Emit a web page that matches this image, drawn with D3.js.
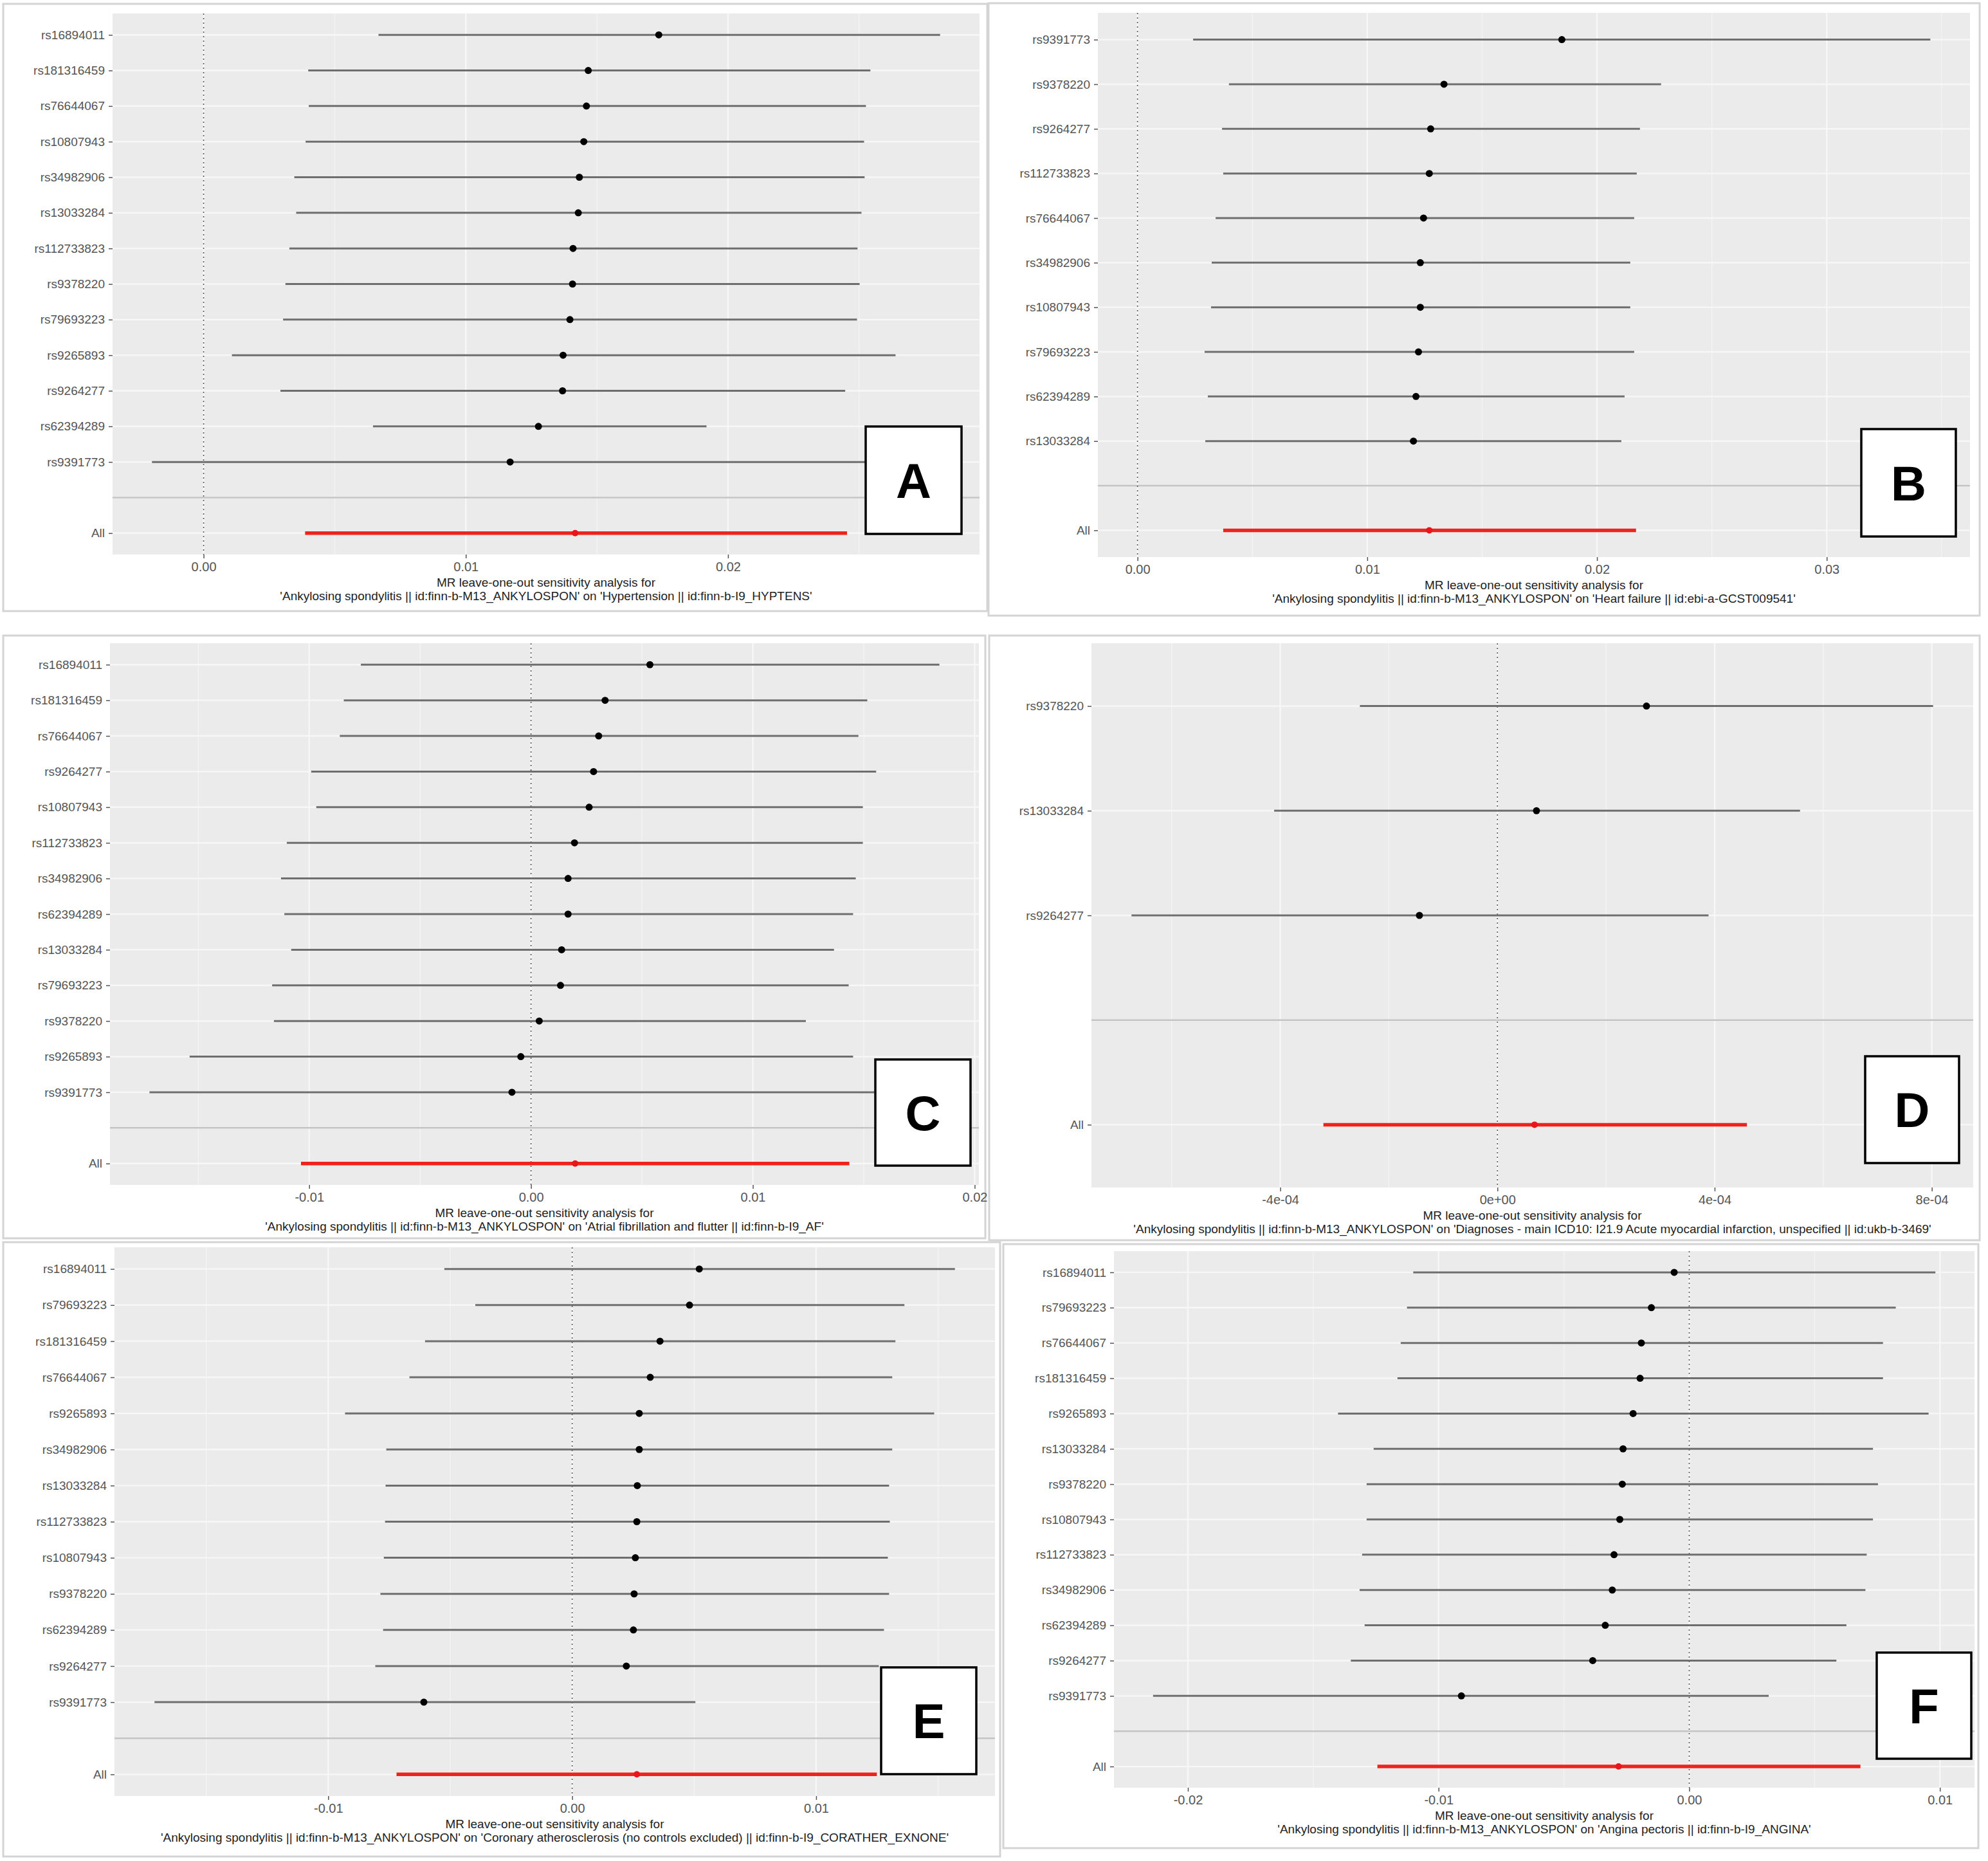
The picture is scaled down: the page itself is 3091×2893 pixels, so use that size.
<!DOCTYPE html>
<html>
<head>
<meta charset="utf-8">
<script src="https://cdn.jsdelivr.net/npm/d3@7"></script>
<style>
  body { margin: 0; background: #fff; }
  text { font-family: "Liberation Sans", Arial, sans-serif; }
</style>
</head>
<body>
<div id="chart"></div>
<script>
// ---- data (beta estimates and 95% CI per SNP) ----
const snpsA = ["rs16894011","rs181316459","rs76644067","rs10807943","rs34982906","rs13033284","rs112733823","rs9378220","rs79693223","rs9265893","rs9264277","rs62394289","rs9391773"];
const estA = [0.01736,0.01467,0.01460,0.01450,0.01433,0.01429,0.01409,0.01407,0.01397,0.01371,0.01369,0.01277,0.01169];
const loA  = [0.00667,0.00399,0.00401,0.00389,0.00346,0.00353,0.00327,0.00312,0.00303,0.00108,0.00293,0.00646,-0.00197];
const hiA  = [0.02809,0.02543,0.02526,0.02519,0.02521,0.02509,0.02494,0.02502,0.02492,0.02639,0.02447,0.01918,0.02530];
const allA = [0.00387,0.01417,0.02454];
const ticksA = [0, 0.01, 0.02];
const tickLabelsA = ["0.00","0.01","0.02"];

const snpsB = ["rs9391773","rs9378220","rs9264277","rs112733823","rs76644067","rs34982906","rs10807943","rs79693223","rs62394289","rs13033284"];
const estB = [0.01847,0.01334,0.01276,0.01270,0.01245,0.01231,0.01231,0.01223,0.01212,0.01201];
const loB  = [0.00242,0.00398,0.00368,0.00373,0.00340,0.00323,0.00320,0.00292,0.00306,0.00295];
const hiB  = [0.03451,0.02279,0.02187,0.02173,0.02162,0.02145,0.02145,0.02162,0.02120,0.02106];
const allB = [0.00373,0.01270,0.02170];
const ticksB = [0, 0.01, 0.02, 0.03];
const tickLabelsB = ["0.00","0.01","0.02","0.03"];

const snpsC = ["rs16894011","rs181316459","rs76644067","rs9264277","rs10807943","rs112733823","rs34982906","rs62394289","rs13033284","rs79693223","rs9378220","rs9265893","rs9391773"];
const estC = [0.00536,0.00334,0.00305,0.00282,0.00262,0.00196,0.00167,0.00167,0.00138,0.00133,0.00037,-0.00046,-0.00086];
const loC  = [-0.00767,-0.00844,-0.00862,-0.00991,-0.00968,-0.01101,-0.01127,-0.01112,-0.01081,-0.01167,-0.01159,-0.01539,-0.01720];
const hiC  = [0.01841,0.01516,0.01476,0.01556,0.01496,0.01496,0.01464,0.01452,0.01366,0.01432,0.01239,0.01452,0.01548];
const allC = [-0.01037,0.00199,0.01435];
const ticksC = [-0.01, 0, 0.01, 0.02];
const tickLabelsC = ["-0.01","0.00","0.01","0.02"];

const snpsD = ["rs9378220","rs13033284","rs9264277"];
const estD = [2.745e-4,0.719e-4,-1.437e-4];
const loD  = [-2.533e-4,-4.112e-4,-6.739e-4];
const hiD  = [8.024e-4,5.573e-4,3.888e-4];
const allD = [-3.205e-4,0.683e-4,4.595e-4];
const ticksD = [-4e-4, 0, 4e-4, 8e-4];
const tickLabelsD = ["-4e-04","0e+00","4e-04","8e-04"];

const snpsE = ["rs16894011","rs79693223","rs181316459","rs76644067","rs9265893","rs34982906","rs13033284","rs112733823","rs10807943","rs9378220","rs62394289","rs9264277","rs9391773"];
const estE = [0.00521,0.00481,0.00360,0.00320,0.00275,0.00275,0.00267,0.00265,0.00259,0.00254,0.00251,0.00222,-0.00608];
const loE  = [-0.00524,-0.00397,-0.00603,-0.00667,-0.00931,-0.00762,-0.00765,-0.00767,-0.00772,-0.00786,-0.00775,-0.00807,-0.01712];
const hiE  = [0.01569,0.01362,0.01325,0.01312,0.01484,0.01312,0.01299,0.01302,0.01294,0.01299,0.01278,0.01257,0.00505];
const allE = [-0.00720,0.00265,0.01249];
const ticksE = [-0.01, 0, 0.01];
const tickLabelsE = ["-0.01","0.00","0.01"];

const snpsF = ["rs16894011","rs79693223","rs76644067","rs181316459","rs9265893","rs13033284","rs9378220","rs10807943","rs112733823","rs34982906","rs62394289","rs9264277","rs9391773"];
const estF = [-0.00060,-0.00151,-0.00191,-0.00196,-0.00224,-0.00264,-0.00267,-0.00277,-0.00300,-0.00307,-0.00335,-0.00385,-0.00909];
const loF  = [-0.01101,-0.01126,-0.01151,-0.01164,-0.01401,-0.01259,-0.01287,-0.01287,-0.01305,-0.01315,-0.01295,-0.01350,-0.02139];
const hiF  = [0.00982,0.00824,0.00773,0.00773,0.00955,0.00733,0.00753,0.00733,0.00708,0.00703,0.00627,0.00587,0.00317];
const allF = [-0.01244,-0.00282,0.00683];
const ticksF = [-0.02, -0.01, 0, 0.01];
const tickLabelsF = ["-0.02","-0.01","0.00","0.01"];

const titleLine1 = "MR leave-one-out sensitivity analysis for";
const exposure = "'Ankylosing spondylitis || id:finn-b-M13_ANKYLOSPON'";
const outcomes = [
  "'Hypertension || id:finn-b-I9_HYPTENS'",
  "'Heart failure || id:ebi-a-GCST009541'",
  "'Atrial fibrillation and flutter || id:finn-b-I9_AF'",
  "'Diagnoses - main ICD10: I21.9 Acute myocardial infarction, unspecified || id:ukb-b-3469'",
  "'Coronary atherosclerosis (no controls excluded) || id:finn-b-I9_CORATHER_EXNONE'",
  "'Angina pectoris || id:finn-b-I9_ANGINA'"
];
const panelLetters = ["A","B","C","D","E","F"];

const width = 3091, height = 2893;

const svg = d3.select("#chart").append("svg")
  .attr("width", width).attr("height", height);

// layout: outer frame, plotting area, letter box  [x0, y0, x1, y1]
const panels = [
  { snps: snpsA, est: estA, lo: loA, hi: hiA, all: allA, ticks: ticksA, labels: tickLabelsA,
    frame: [5, 6, 1535, 950], plot: [175, 21, 1523, 862], box: [1346, 663, 1495, 830] },
  { snps: snpsB, est: estB, lo: loB, hi: hiB, all: allB, ticks: ticksB, labels: tickLabelsB,
    frame: [1537, 5, 3078, 957], plot: [1707, 20, 3063, 866], box: [2894, 667, 3041, 834] },
  { snps: snpsC, est: estC, lo: loC, hi: hiC, all: allC, ticks: ticksC, labels: tickLabelsC,
    frame: [5, 988, 1532, 1925], plot: [171, 1000, 1522, 1842], box: [1361, 1647, 1509, 1812] },
  { snps: snpsD, est: estD, lo: loD, hi: hiD, all: allD, ticks: ticksD, labels: tickLabelsD,
    frame: [1538, 988, 3078, 1928], plot: [1697, 1000, 3068, 1846], box: [2900, 1642, 3046, 1808] },
  { snps: snpsE, est: estE, lo: loE, hi: hiE, all: allE, ticks: ticksE, labels: tickLabelsE,
    frame: [5, 1931, 1555, 2886], plot: [178, 1939, 1547, 2792], box: [1370, 2592, 1518, 2758] },
  { snps: snpsF, est: estF, lo: loF, hi: hiF, all: allF, ticks: ticksF, labels: tickLabelsF,
    frame: [1560, 1934, 3076, 2873], plot: [1732, 1945, 3070, 2779], box: [2918, 2569, 3065, 2734] }
];

panels.forEach((p, i) => drawPanel(p, i));

function drawPanel(p, i) {
  const [fx0, fy0, fx1, fy1] = p.frame;
  const [px0, py0, px1, py1] = p.plot;
  const g = svg.append("g");

  g.append("rect")
    .attr("x", fx0).attr("y", fy0)
    .attr("width", fx1 - fx0).attr("height", fy1 - fy0)
    .attr("fill", "#fff").attr("stroke", "#d4d4d4").attr("stroke-width", 3);

  // x range includes the 0 line, expanded by 5% like ggplot
  let xmin = d3.min([0, d3.min(p.lo), p.all[0]]);
  let xmax = d3.max([0, d3.max(p.hi), p.all[2]]);
  const pad = (xmax - xmin) * 0.05;

  const x = d3.scaleLinear().domain([xmin - pad, xmax + pad]).range([px0, px1]);

  const levels = [...p.snps, "", "All"];
  const y = d3.scalePoint().domain(levels).range([py0, py1]).padding(0.6);

  g.append("rect")
    .attr("x", px0).attr("y", py0)
    .attr("width", px1 - px0).attr("height", py1 - py0)
    .attr("fill", "#ebebeb");

  // minor + major grid
  const step = p.ticks[1] - p.ticks[0];
  const minor = d3.range(p.ticks[0] - step / 2, xmax + pad + step, step)
    .filter((v) => x(v) > px0 && x(v) < px1);
  g.selectAll(".minor").data(minor).enter().append("line")
    .attr("x1", (d) => x(d)).attr("x2", (d) => x(d))
    .attr("y1", py0).attr("y2", py1)
    .attr("stroke", "#f5f5f5").attr("stroke-width", 1.2);
  g.selectAll(".majx").data(p.ticks).enter().append("line")
    .attr("x1", (d) => x(d)).attr("x2", (d) => x(d))
    .attr("y1", py0).attr("y2", py1)
    .attr("stroke", "#f7f7f7").attr("stroke-width", 2.4);
  g.selectAll(".majy").data(levels).enter().append("line")
    .attr("x1", px0).attr("x2", px1)
    .attr("y1", (d) => y(d)).attr("y2", (d) => y(d))
    .attr("stroke", "#f7f7f7").attr("stroke-width", 2.4);

  // separator above "All"
  g.append("line")
    .attr("x1", px0).attr("x2", px1)
    .attr("y1", y("")).attr("y2", y(""))
    .attr("stroke", "#c4c4c4").attr("stroke-width", 2.5);

  // null line
  g.append("line")
    .attr("x1", x(0)).attr("x2", x(0))
    .attr("y1", py0).attr("y2", py1)
    .attr("stroke", "#555").attr("stroke-width", 1.6)
    .attr("stroke-dasharray", "2,5");

  const rows = p.snps.map((s, k) => ({ snp: s, est: p.est[k], lo: p.lo[k], hi: p.hi[k] }));

  g.selectAll(".ci").data(rows).enter().append("line")
    .attr("x1", (d) => x(d.lo)).attr("x2", (d) => x(d.hi))
    .attr("y1", (d) => y(d.snp)).attr("y2", (d) => y(d.snp))
    .attr("stroke", "#6e6e6e").attr("stroke-width", 3);

  g.selectAll(".pt").data(rows).enter().append("circle")
    .attr("cx", (d) => x(d.est)).attr("cy", (d) => y(d.snp))
    .attr("r", 5.5).attr("fill", "#000");

  g.append("line")
    .attr("x1", x(p.all[0])).attr("x2", x(p.all[2]))
    .attr("y1", y("All")).attr("y2", y("All"))
    .attr("stroke", "#f0231c").attr("stroke-width", 5.5);
  g.append("circle")
    .attr("cx", x(p.all[1])).attr("cy", y("All"))
    .attr("r", 5).attr("fill", "#e8151a");

  // axes
  const yAxis = g.append("g")
    .attr("transform", `translate(${px0},0)`)
    .call(d3.axisLeft(y).tickSize(6).tickPadding(6));
  yAxis.select(".domain").remove();
  yAxis.selectAll(".tick").filter((d) => d === "").remove();
  yAxis.selectAll("line").attr("stroke", "#555").attr("stroke-width", 1.5);
  yAxis.selectAll("text").attr("font-size", 19).attr("fill", "#555");

  const xAxis = g.append("g")
    .attr("transform", `translate(0,${py1})`)
    .call(d3.axisBottom(x).tickValues(p.ticks)
      .tickFormat((d, k) => p.labels[k]).tickSize(6).tickPadding(6));
  xAxis.select(".domain").remove();
  xAxis.selectAll("line").attr("stroke", "#555").attr("stroke-width", 1.5);
  xAxis.selectAll("text").attr("font-size", 20).attr("fill", "#555");

  const cx = (px0 + px1) / 2;
  g.append("text")
    .attr("x", cx).attr("y", py1 + 50)
    .attr("text-anchor", "middle").attr("font-size", 19).attr("fill", "#222")
    .text(titleLine1);
  g.append("text")
    .attr("x", cx).attr("y", py1 + 71)
    .attr("text-anchor", "middle").attr("font-size", 19).attr("fill", "#222")
    .text(exposure + " on " + outcomes[i]);

  // panel letter
  const [bx0, by0, bx1, by1] = p.box;
  g.append("rect")
    .attr("x", bx0).attr("y", by0)
    .attr("width", bx1 - bx0).attr("height", by1 - by0)
    .attr("fill", "#fff").attr("stroke", "#000").attr("stroke-width", 3.5);
  g.append("text")
    .attr("x", (bx0 + bx1) / 2).attr("y", (by0 + by1) / 2 + 27)
    .attr("text-anchor", "middle")
    .attr("font-family", "Lato, 'Open Sans', sans-serif")
    .attr("font-weight", 900).attr("font-size", 76).attr("fill", "#000")
    .text(panelLetters[i]);
}
</script>
</body>
</html>
